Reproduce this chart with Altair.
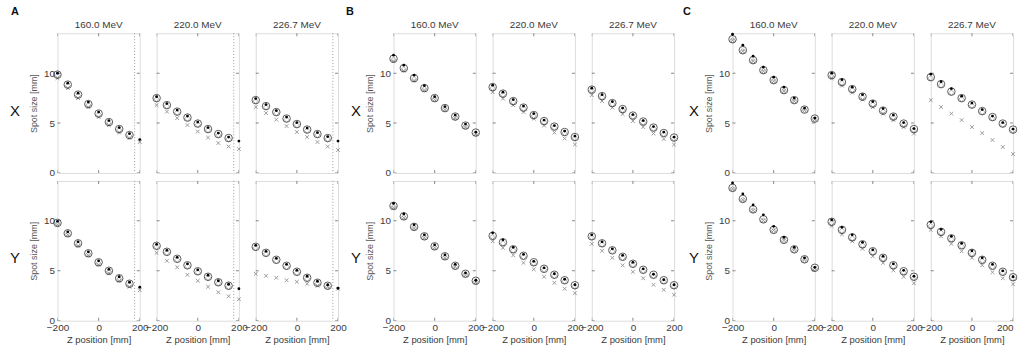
import altair as alt
import pandas as pd

# ---------------- data ----------------
Z = [-200, -150, -100, -50, 0, 50, 100, 150, 200]
ENERGIES = ["160.0 MeV", "220.0 MeV", "226.7 MeV"]
GROUPS = ["A", "B", "C"]
ROWS = ["X", "Y"]
A_LIMIT = 175  # dotted limit line in group A

# Group A
A_X_160_circle = [9.85, 8.85, 7.85, 6.9, 5.95, 5.1, 4.4, 3.8, None]
A_X_160_diamond = [9.75, 8.75, 7.75, 6.8, 5.85, 5.0, 4.3, 3.7, None]
A_X_160_cross = [9.5, 8.5, 7.5, 6.6, 5.6, 4.8, 4.05, 3.5, 3.1]
A_X_160_dot = [10.0, 9.0, 8.0, 7.1, 6.1, 5.25, 4.55, 3.95, 3.35]

A_X_220_circle = [7.5, 6.8, 6.15, 5.55, 4.95, 4.4, 3.9, 3.5, None]
A_X_220_diamond = [7.4, 6.7, 6.05, 5.45, 4.85, 4.3, 3.8, 3.4, None]
A_X_220_cross = [6.8, 6.15, 5.5, 4.8, 4.15, 3.55, 3.0, 2.65, 2.4]
A_X_220_dot = [7.65, 6.95, 6.3, 5.7, 5.1, 4.55, 4.0, 3.6, 3.2]

A_X_226_circle = [7.3, 6.7, 6.1, 5.45, 4.9, 4.35, 3.9, 3.5, None]
A_X_226_diamond = [7.2, 6.6, 6.0, 5.35, 4.8, 4.25, 3.8, 3.4, None]
A_X_226_cross = [6.6, 6.0, 5.35, 4.7, 4.1, 3.6, 3.1, 2.65, 2.3]
A_X_226_dot = [7.45, 6.85, 6.25, 5.6, 5.05, 4.5, 4.05, 3.65, 3.2]

A_Y_160_circle = [9.8, 8.75, 7.75, 6.75, 5.85, 5.0, 4.25, 3.7, None]
A_Y_160_diamond = [9.7, 8.65, 7.65, 6.65, 5.75, 4.9, 4.15, 3.6, None]
A_Y_160_cross = [9.6, 8.6, 7.5, 6.55, 5.6, 4.75, 4.0, 3.4, 3.05]
A_Y_160_dot = [9.95, 8.9, 7.9, 6.9, 6.0, 5.15, 4.4, 3.85, 3.35]

A_Y_220_circle = [7.5, 6.9, 6.2, 5.55, 4.95, 4.4, 3.85, 3.5, None]
A_Y_220_diamond = [7.4, 6.8, 6.1, 5.45, 4.85, 4.3, 3.75, 3.4, None]
A_Y_220_cross = [6.8, 6.0, 5.35, 4.6, 4.0, 3.4, 2.85, 2.45, 2.15]
A_Y_220_dot = [7.65, 7.05, 6.35, 5.7, 5.1, 4.55, 4.0, 3.65, 3.2]

A_Y_226_circle = [7.4, 6.8, 6.1, 5.5, 4.9, 4.3, 3.8, 3.5, None]
A_Y_226_diamond = [7.3, 6.7, 6.0, 5.4, 4.8, 4.2, 3.7, 3.4, None]
A_Y_226_cross = [4.7, 4.5, 4.3, 4.05, 3.9, 3.7, 3.5, 3.4, 3.2]
A_Y_226_dot = [7.55, 6.95, 6.25, 5.65, 5.05, 4.45, 3.95, 3.6, 3.25]

# Group B
B_X_160_circle = [11.45, 10.5, 9.5, 8.5, 7.5, 6.5, 5.65, 4.75, 4.05]
B_X_160_diamond = [11.35, 10.4, 9.4, 8.4, 7.4, 6.4, 5.55, 4.65, 3.95]
B_X_160_cross = [11.2, 10.25, 9.25, 8.3, 7.35, 6.35, 5.5, 4.6, 3.9]
B_X_160_dot = [11.8, 10.8, 9.8, 8.75, 7.65, 6.65, 5.8, 4.9, 4.1]

B_X_220_circle = [8.6, 7.95, 7.2, 6.55, 5.8, 5.2, 4.65, 4.1, 3.6]
B_X_220_diamond = [8.5, 7.85, 7.1, 6.45, 5.7, 5.1, 4.55, 4.0, 3.5]
B_X_220_cross = [8.1, 7.45, 6.8, 6.1, 5.45, 4.75, 4.05, 3.45, 2.85]
B_X_220_dot = [8.8, 8.1, 7.35, 6.7, 5.95, 5.3, 4.75, 4.2, 3.7]

B_X_226_circle = [8.35, 7.7, 7.0, 6.4, 5.75, 5.15, 4.55, 4.0, 3.55]
B_X_226_diamond = [8.25, 7.6, 6.9, 6.3, 5.65, 5.05, 4.45, 3.9, 3.45]
B_X_226_cross = [7.8, 7.2, 6.55, 5.9, 5.2, 4.6, 3.95, 3.4, 2.85]
B_X_226_dot = [8.5, 7.85, 7.15, 6.5, 5.85, 5.25, 4.65, 4.1, 3.6]

B_Y_160_circle = [11.5, 10.45, 9.4, 8.45, 7.45, 6.45, 5.5, 4.7, 4.0]
B_Y_160_diamond = [11.4, 10.35, 9.3, 8.35, 7.35, 6.35, 5.4, 4.6, 3.9]
B_Y_160_cross = [11.3, 10.3, 9.25, 8.3, 7.3, 6.3, 5.4, 4.55, 3.85]
B_Y_160_dot = [11.75, 10.7, 9.6, 8.6, 7.6, 6.6, 5.65, 4.8, 4.05]

B_Y_220_circle = [8.5, 7.85, 7.15, 6.5, 5.85, 5.2, 4.6, 4.05, 3.55]
B_Y_220_diamond = [8.4, 7.75, 7.05, 6.4, 5.75, 5.1, 4.5, 3.95, 3.45]
B_Y_220_cross = [7.95, 7.3, 6.55, 5.8, 5.15, 4.4, 3.8, 3.2, 2.75]
B_Y_220_dot = [8.8, 8.1, 7.35, 6.65, 5.95, 5.3, 4.7, 4.15, 3.6]

B_Y_226_circle = [8.45, 7.75, 7.05, 6.4, 5.7, 5.1, 4.6, 4.05, 3.55]
B_Y_226_diamond = [8.35, 7.65, 6.95, 6.3, 5.6, 5.0, 4.5, 3.95, 3.45]
B_Y_226_cross = [7.7, 7.0, 6.3, 5.55, 4.9, 4.25, 3.6, 3.1, 2.6]
B_Y_226_dot = [8.6, 7.9, 7.2, 6.55, 5.85, 5.2, 4.65, 4.1, 3.6]

# Group C
C_X_160_circle = [13.4, 12.3, 11.3, 10.3, 9.3, 8.3, 7.3, 6.35, 5.45]
C_X_160_diamond = [13.3, 12.2, 11.2, 10.2, 9.2, 8.2, 7.2, 6.3, 5.4]
C_X_160_cross = [13.3, 12.2, 11.2, 10.2, 9.2, 8.2, 7.2, 6.3, 5.4]
C_X_160_dot = [13.9, 12.8, 11.7, 10.6, 9.6, 8.6, 7.5, 6.5, 5.5]

C_X_220_circle = [9.8, 9.1, 8.4, 7.65, 6.95, 6.25, 5.65, 4.95, 4.4]
C_X_220_diamond = [9.7, 9.0, 8.3, 7.55, 6.85, 6.15, 5.55, 4.85, 4.3]
C_X_220_cross = [9.5, 8.75, 8.05, 7.35, 6.6, 5.95, 5.3, 4.6, 3.95]
C_X_220_dot = [10.0, 9.35, 8.6, 7.85, 7.15, 6.45, 5.8, 5.05, 4.45]

C_X_226_circle = [9.6, 8.9, 8.15, 7.5, 6.85, 6.2, 5.6, 4.95, 4.35]
C_X_226_diamond = [9.5, 8.8, 8.05, 7.4, 6.75, 6.1, 5.5, 4.85, 4.25]
C_X_226_cross = [7.3, 6.6, 5.95, 5.3, 4.6, 4.0, 3.3, 2.6, 1.9]
C_X_226_dot = [9.9, 9.15, 8.45, 7.7, 7.0, 6.35, 5.7, 5.05, 4.4]

C_Y_160_circle = [13.3, 12.2, 11.15, 10.15, 9.1, 8.1, 7.15, 6.15, 5.3]
C_Y_160_diamond = [13.2, 12.1, 11.05, 10.05, 9.0, 8.0, 7.05, 6.05, 5.2]
C_Y_160_cross = [13.2, 12.1, 11.05, 10.05, 9.05, 8.05, 7.1, 6.1, 5.25]
C_Y_160_dot = [13.8, 12.7, 11.6, 10.6, 9.45, 8.35, 7.35, 6.3, 5.35]

C_Y_220_circle = [9.9, 9.1, 8.35, 7.65, 6.95, 6.3, 5.55, 4.95, 4.4]
C_Y_220_diamond = [9.8, 9.0, 8.25, 7.55, 6.85, 6.2, 5.45, 4.85, 4.3]
C_Y_220_cross = [9.5, 8.65, 7.95, 7.2, 6.45, 5.8, 5.05, 4.4, 3.75]
C_Y_220_dot = [10.1, 9.35, 8.6, 7.85, 7.1, 6.45, 5.7, 5.05, 4.45]

C_Y_226_circle = [9.6, 8.9, 8.25, 7.55, 6.8, 6.1, 5.5, 4.9, 4.35]
C_Y_226_diamond = [9.5, 8.8, 8.15, 7.45, 6.7, 6.0, 5.4, 4.8, 4.25]
C_Y_226_cross = [9.1, 8.45, 7.7, 6.95, 6.3, 5.55, 4.85, 4.25, 3.65]
C_Y_226_dot = [9.9, 9.15, 8.45, 7.75, 7.0, 6.3, 5.65, 5.0, 4.4]

Y_TICKS = [0, 5, 10]
X_TICKS = [-200, 0, 200]
X_DOMAIN = [-200, 200]
Y_DOMAIN = [0, 14]

# ---------------- layout / style ----------------
FONT = "Liberation Sans"
PW, PH = 83, 141
XS = alt.Scale(domain=X_DOMAIN, nice=False, zero=False)
YS = alt.Scale(domain=Y_DOMAIN, nice=False, zero=False)
CROSS_PATH = "M-1,-1L1,1M-1,1L1,-1"
KEYS = ["160", "220", "226"]
FRAME = "#555555"
TXT = "#3a3a3a"
# label columns: (width, x of row letter, x of group letter)
LABEL_COLS = {"A": (35, 9, 9), "B": (22, 1, -5), "C": (25, 3, -4)}


def panel(g, r, ci):
    k = f"{g}_{r}_{KEYS[ci]}"
    g_ = globals()
    df = pd.DataFrame({
        "z": Z,
        "circle": g_[k + "_circle"],
        "diamond": g_[k + "_diamond"],
        "cross": g_[k + "_cross"],
        "dot": g_[k + "_dot"],
    })
    bottom = r == "Y"
    first = ci == 0
    xkw = dict(values=X_TICKS, labels=bottom, ticks=False, domain=False, grid=False,
               labelFlush=False, labelPadding=2, labelFontSize=10, labelColor=TXT,
               labelFont=FONT, titleFont=FONT, titleFontSize=9.5, titleFontWeight="normal",
               titleColor=TXT,
               title="Z position [mm]" if bottom else "", titlePadding=2)
    if g == "C" and ci == 2:
        xkw["labelAlign"] = alt.ExprRef("datum.value == 200 ? 'right' : 'center'")
    xaxis = alt.Axis(**xkw)
    yaxis = alt.Axis(values=Y_TICKS, labels=first, ticks=False, domain=False, grid=False,
                     labelPadding=3, labelFontSize=10, labelColor=TXT, labelFont=FONT,
                     titleFont=FONT, titleFontSize=9, titleFontWeight="normal", titleColor="#555555",
                     title="Spot size [mm]" if first else "", titlePadding=5)
    x = alt.X("z:Q", scale=XS, axis=xaxis)

    def pts(field, **mk):
        return alt.Chart(df).mark_point(**mk).encode(
            x=x, y=alt.Y(f"{field}:Q", scale=YS, axis=yaxis))

    # inward tick marks on the frame (clipped to the plot area)
    yt = pd.DataFrame({"z": [X_DOMAIN[0]] * 3 + [X_DOMAIN[1]] * 3, "v": Y_TICKS * 2})
    xt = pd.DataFrame({"z": X_TICKS * 2, "v": [Y_DOMAIN[0]] * 3 + [Y_DOMAIN[1]] * 3})
    tick_y = alt.Chart(yt).mark_tick(orient="horizontal", size=6, thickness=1, color=FRAME,
                                     clip=True).encode(x=x, y=alt.Y("v:Q", scale=YS, axis=yaxis))
    tick_x = alt.Chart(xt).mark_tick(orient="vertical", size=6, thickness=1, color=FRAME,
                                     clip=True).encode(x=x, y=alt.Y("v:Q", scale=YS, axis=yaxis))

    layers = [tick_y, tick_x]
    if g == "A":
        layers.append(alt.Chart(pd.DataFrame({"z": [A_LIMIT]})).mark_rule(
            color="#9a9a9a", strokeDash=[1, 2], strokeWidth=1).encode(x=x))
    layers += [
        pts("cross", shape=CROSS_PATH, size=14, color="#707070", strokeWidth=1, filled=False),
        pts("diamond", shape="diamond", size=28, color="#777777", strokeWidth=0.8, filled=False),
        pts("circle", shape="circle", size=58, color="#1a1a1a", strokeWidth=1, filled=False),
        pts("dot", shape="circle", size=8, color="#000000", filled=True, opacity=1),
    ]
    ch = alt.layer(*layers).properties(width=PW, height=PH)
    if r == "X":
        ch = ch.properties(title=alt.TitleParams(ENERGIES[ci], fontSize=10, fontWeight="normal",
                                                 font=FONT, color=TXT, offset=3))
    return ch


def label_cell(g, r):
    w, xr, xg = LABEL_COLS[g]
    layers = [alt.Chart(pd.DataFrame({"t": [r]})).mark_text(
        font=FONT, fontSize=15, color="#111111", align="center", baseline="middle"
    ).encode(text="t:N", x=alt.value(xr), y=alt.value(78))]
    if r == "X":
        layers.append(alt.Chart(pd.DataFrame({"t": [g]})).mark_text(
            font=FONT, fontSize=11, fontWeight="bold", color="#111111", align="center",
            baseline="middle"
        ).encode(text="t:N", x=alt.value(xg), y=alt.value(-21)))
    return alt.layer(*layers).properties(
        width=w, height=PH, view=alt.ViewBackground(stroke="transparent"))


cells = []
for r in ROWS:
    for g in GROUPS:
        cells.append(label_cell(g, r))
        for ci in range(3):
            cells.append(panel(g, r, ci))

chart = alt.concat(*cells, columns=12, spacing=alt.RowColnumber(row=8, column=17),
                   bounds="flush", align="each").properties(
    padding={"left": 5, "top": 4, "right": 0, "bottom": 0}
).configure_view(stroke=FRAME, strokeWidth=1).configure(background="white")

chart.save("out.html", embed_options={"renderer": "svg", "actions": False})
